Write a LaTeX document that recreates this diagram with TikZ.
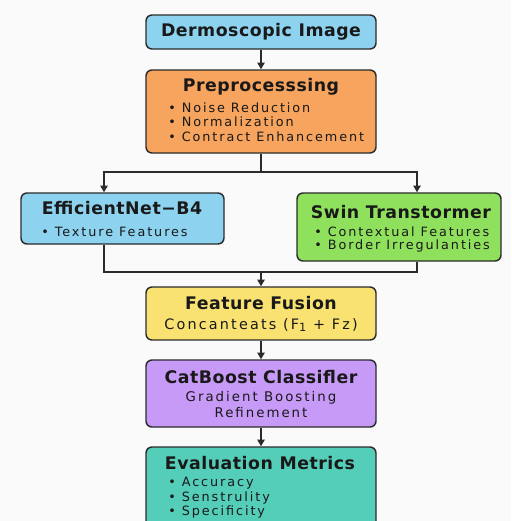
\documentclass[tikz,border=0pt]{standalone}
\usepackage{fontspec}
\setmainfont{DejaVu Sans}
\newfontfamily\itemfont{DejaVu Sans}[LetterSpace=15]
\newfontfamily\headfont{DejaVu Sans}[LetterSpace=3]
\usetikzlibrary{arrows.meta,fit}
\definecolor{cblue}{HTML}{8DD3F0}
\definecolor{corange}{HTML}{F6A45E}
\definecolor{cgreen}{HTML}{8FE05C}
\definecolor{cyellow}{HTML}{F9E271}
\definecolor{cpurple}{HTML}{C79AF7}
\definecolor{cteal}{HTML}{54CDB9}
\definecolor{cline}{HTML}{2B2B2B}
\definecolor{cbg}{HTML}{FAFAFA}
\tikzset{
  box/.style={draw=cline, line width=1.1pt, rounded corners=4.5pt, inner sep=0pt},
  ttl/.style={inner sep=0pt, font=\headfont\bfseries\fontsize{13pt}{15pt}\selectfont, text=black!90},
  itm/.style={inner sep=0pt, anchor=west, font=\itemfont\fontsize{9.6pt}{11pt}\selectfont, text=black!90},
  sub/.style={inner sep=0pt, font=\itemfont\fontsize{10pt}{11pt}\selectfont, text=black!90},
  conn/.style={draw=cline, line width=1.1pt},
  arr/.style={conn, -{Triangle[length=5pt,width=5.5pt]}}
}
\begin{document}
\begin{tikzpicture}
[x=0.75pt,y=-0.75pt]
\useasboundingbox (0,0) rectangle (511,521);
\clip (0,0) rectangle (511,521);
\fill[cbg] (0,0) rectangle (511,521);
% boxes
\node[box, fill=cblue, fit={(146,15) (376,49)}] (dermo) {};
\node[box, fill=corange, fit={(146,70) (376,153)}] (pre) {};
\node[box, fill=cblue, fit={(21,193) (224,244)}] (eff) {};
\node[box, fill=cgreen, fit={(297,193) (501,261)}] (swin) {};
\node[box, fill=cyellow, fit={(146,287) (376,340)}] (fus) {};
\node[box, fill=cpurple, fit={(146,360) (376,427)}] (cat) {};
\node[box, fill=cteal, fit={(146,447) (376,545)}] (eval) {};
% texts
\node[ttl] (t1) at (261,32) {Dermoscopic Image};
\node[ttl] (t2) at (261,87) {Preprocesssing};
\node[itm] (i21) at (168,108) {•\ Noise Reduction};
\node[itm] (i22) at (168,122) {•\ Normalization};
\node[itm] (i23) at (168,137) {•\ Contract Enhancement};
\node[ttl] (t3) at (122,208) {EfficientNet−B4};
\node[itm] (i31) at (41,232) {•\ Texture Features};
\node[ttl] (t4) at (401,212) {Swin Transtormer};
\node[itm] (i41) at (314,232) {•\ Contextual Features};
\node[itm] (i42) at (314,246) {•\ Border Irregulanties};
\node[ttl] (t5) at (261,303) {Feature Fusion};
\node[sub, font=\itemfont\fontsize{10.8pt}{12pt}\selectfont] (s5) at (261,325) {Concanteats (F\raisebox{-0.2em}{\fontsize{8.5pt}{9pt}\selectfont 1} + Fz)};
\node[ttl] (t6) at (261,377) {CatBoost Classifler};
\node[sub] (s61) at (261,398) {Gradient Boosting};
\node[sub] (s62) at (261,413) {Refinement};
\node[ttl] (t7) at (260,463) {Evaluation Metrics};
\node[itm] (i71) at (168,483) {•\ Accuracy};
\node[itm] (i72) at (168,498) {•\ Senstrulity};
\node[itm] (i73) at (168,512) {•\ Specificity};
% connectors
\coordinate (split) at (261,172);
\coordinate (effx) at (104,172);
\coordinate (swinx) at (417,172);
\coordinate (merge) at (261,272);
\coordinate (effy) at (104,272);
\coordinate (swiny) at (417,272);
\draw[arr] (dermo.south) -- (pre.north);
\draw[conn] (pre.south) -- (split);
\draw[arr] (split) -- (effx) -- (effx |- eff.north);
\draw[arr] (split) -- (swinx) -- (swinx |- swin.north);
\draw[conn] (effy |- eff.south) -- (effy) -- (swiny) -- (swiny |- swin.south);
\draw[arr] (merge) -- (fus.north);
\draw[arr] (fus.south) -- (cat.north);
\draw[arr] (cat.south) -- (eval.north);
\end{tikzpicture}
\end{document}
